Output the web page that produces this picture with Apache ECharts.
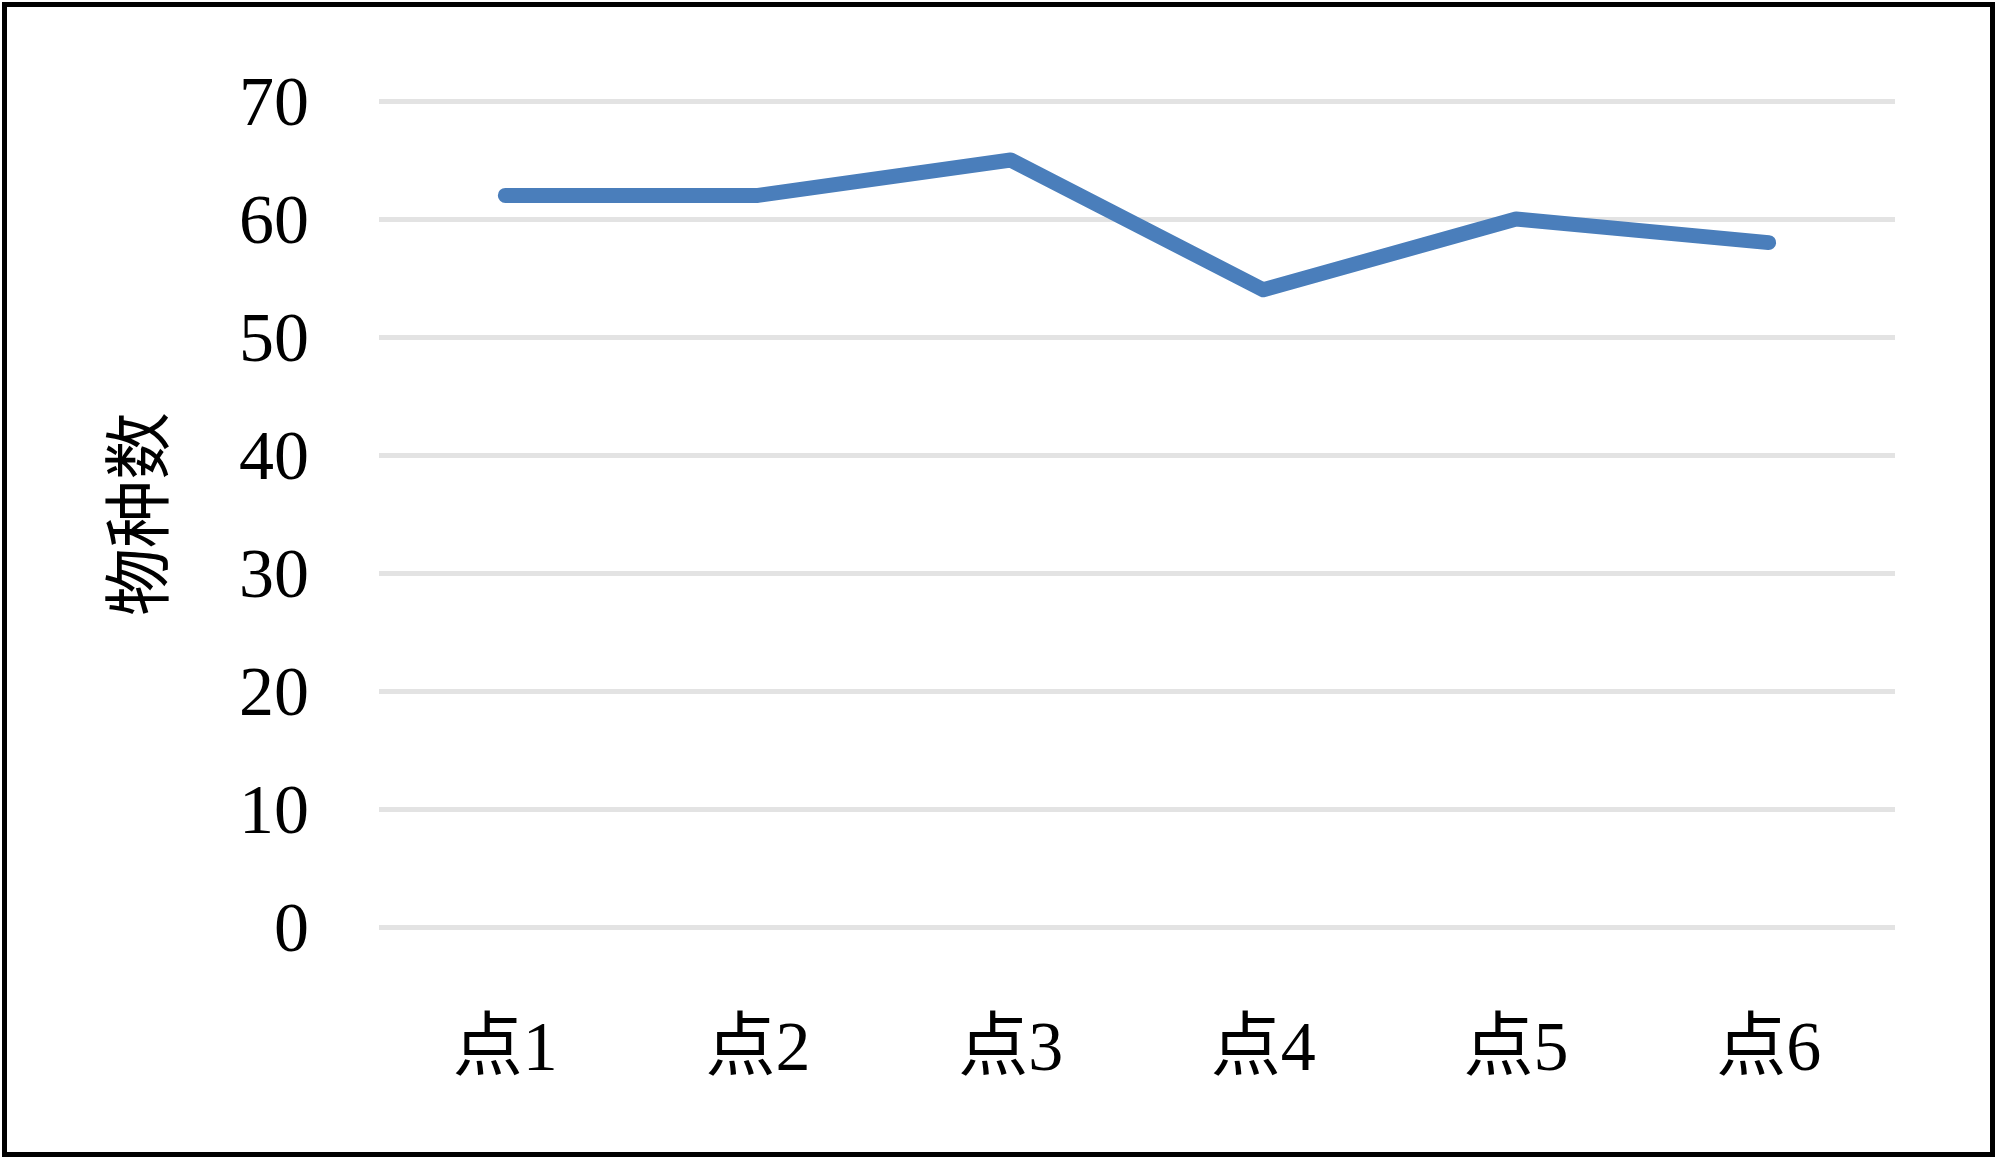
<!DOCTYPE html>
<html>
<head>
<meta charset="utf-8">
<script src="https://cdn.jsdelivr.net/npm/echarts@6/dist/echarts.min.js"></script>
<style>
    html, body { margin: 0; padding: 0; background: #fff; }
    #chart { width: 2000px; height: 1159px; }
</style>
</head>
<body>
<div id="chart"></div>
<script>
    var categories = ['点1', '点2', '点3', '点4', '点5', '点6'];
    var speciesCount = [62, 62, 65, 54, 60, 58];
    var yAxisName = '物种数';

    var fontFamily = '"Liberation Serif", "Noto Sans CJK SC", serif';

    var chart = echarts.init(document.getElementById('chart'));

    var option = {
        backgroundColor: '#ffffff',
        animation: false,
        grid: {
            left: 379,
            right: 105,
            top: 101,
            bottom: 232
        },
        xAxis: {
            type: 'category',
            data: categories,
            boundaryGap: true,
            axisLine: { show: false },
            axisTick: { show: false },
            axisLabel: {
                color: '#000',
                fontFamily: fontFamily,
                fontSize: 70,
                margin: 90
            }
        },
        yAxis: {
            type: 'value',
            min: 0,
            max: 70,
            interval: 10,
            name: yAxisName,
            nameLocation: 'middle',
            nameGap: 200,
            nameRotate: 90,
            nameTextStyle: {
                color: '#000',
                fontFamily: fontFamily,
                fontSize: 68
            },
            axisLine: { show: false },
            axisTick: { show: false },
            axisLabel: {
                margin: 70,
                formatter: '{n|{value}}',
                rich: {
                    n: {
                        color: '#000',
                        fontFamily: fontFamily,
                        fontSize: 70,
                        padding: [12, 0, 0, 0]
                    }
                }
            },
            splitLine: {
                lineStyle: { color: '#e3e3e3', width: 5 }
            }
        },
        series: [
            {
                type: 'line',
                data: speciesCount,
                symbol: 'none',
                lineStyle: {
                    color: '#4a7ebb',
                    width: 15,
                    cap: 'round',
                    join: 'round'
                }
            }
        ],
        graphic: [
            {
                type: 'rect',
                shape: { x: 4.5, y: 4.5, width: 1988, height: 1150 },
                style: { fill: null, stroke: '#000', lineWidth: 5 },
                silent: true
            }
        ]
    };

    chart.setOption(option);
</script>
</body>
</html>
